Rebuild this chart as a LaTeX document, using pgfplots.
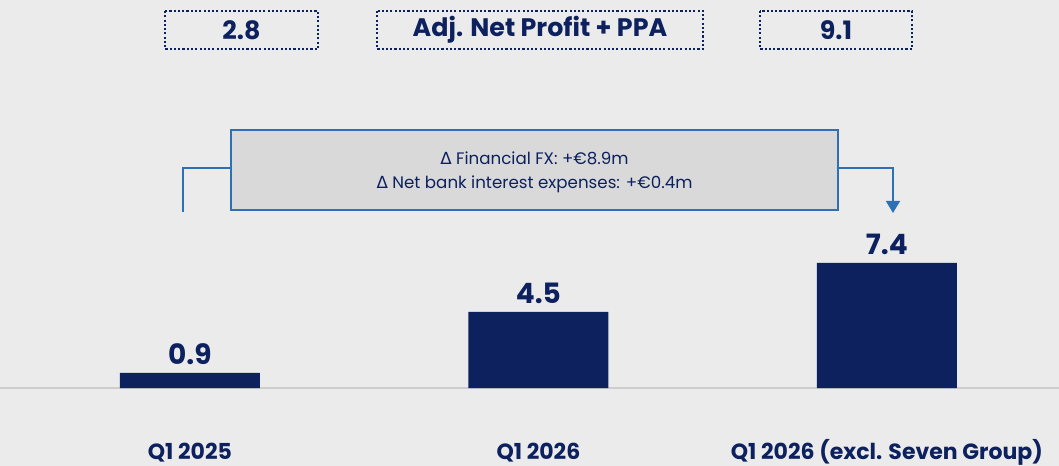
\documentclass[border=0pt]{standalone}
\usepackage{pgfplots}
\pgfplotsset{compat=1.18}
\usepackage{fontspec}
\setmainfont{Poppins}
\newfontfamily\dv{DejaVu Sans}
\usetikzlibrary{arrows.meta}
\definecolor{navy}{RGB}{12,33,94}
\definecolor{bgray}{RGB}{235,235,235}
\definecolor{boxblue}{RGB}{46,112,180}
\definecolor{boxfill}{RGB}{217,217,217}
\definecolor{baseln}{RGB}{205,205,205}

\begin{document}
\begin{tikzpicture}
% background and baseline (1 unit = 1 px of the reference)
\begin{scope}[x=0.75pt,y=-0.75pt]
\fill[bgray] (0,0) rectangle (1059,466);
\draw[baseln, line width=1pt] (0,388) -- (1059,388);
\end{scope}

\begin{axis}[
    at={(0,0)}, anchor=north west,
    scale only axis, width=794.25pt, height=349.5pt,
    xmin=-0.545, xmax=2.494, ymin=-4.615, ymax=22.96,
    axis line style={draw=none}, tick style={draw=none},
    ybar, bar width=105pt,
    xtick={0,1,2},
    xticklabels={Q1 2025, Q1 2026, Q1 2026 (excl. Seven Group)},
    ytick=\empty,
    xticklabel style={font=\bfseries\fontsize{16.5}{20}\selectfont, text=navy,
                      anchor=base, yshift=9.5pt},
    nodes near coords,
    every node near coord/.append style={font=\bfseries\fontsize{21}{24}\selectfont,
        text=navy, anchor=base, yshift=6pt},
    /pgf/number format/fixed, /pgf/number format/precision=1,
    /pgf/number format/fixed zerofill,
    /pgf/number format/assume math mode=true,
    clip=false,
]
\addplot[fill=navy, draw=none] coordinates {(0,0.9) (1,4.5) (2,7.4)};
\end{axis}

% annotations
\begin{scope}[x=0.75pt,y=-0.75pt]
\tikzset{dotbox/.style={draw=navy, line width=1.8pt, dash pattern=on 1.6pt off 1.6pt}}
\draw[dotbox] (165,11) rectangle (318,49);
\draw[dotbox] (377,11) rectangle (703,49);
\draw[dotbox] (760,11) rectangle (912,49);
\node[font=\bfseries\fontsize{19}{22}\selectfont, text=navy] at (241.5,30) {2.8};
\node[font=\bfseries\fontsize{19}{22}\selectfont, text=navy] at (540,30) {Adj. Net Profit + PPA};
\node[font=\bfseries\fontsize{19}{22}\selectfont, text=navy] at (836,30) {9.1};

\draw[boxblue, line width=1.1pt] (183,212) -- (183,168) -- (231,168);
\draw[boxblue, line width=1.1pt, -{Triangle[width=10.5pt,length=9pt]}] (838,168) -- (893,168) -- (893,213);
\draw[boxblue, line width=1.6pt, fill=boxfill] (231,130) rectangle (838,210);
\node[font=\fontsize{12.5}{18}\selectfont, text=navy, align=center] at (534.5,172)
  {{\dv Δ} Financial FX: +€8.9m\\{\dv Δ} Net bank interest expenses: +€0.4m};
\end{scope}

\pgfresetboundingbox
\path[use as bounding box, x=0.75pt, y=-0.75pt] (0,0) rectangle (1059,466);
\end{tikzpicture}
\end{document}
